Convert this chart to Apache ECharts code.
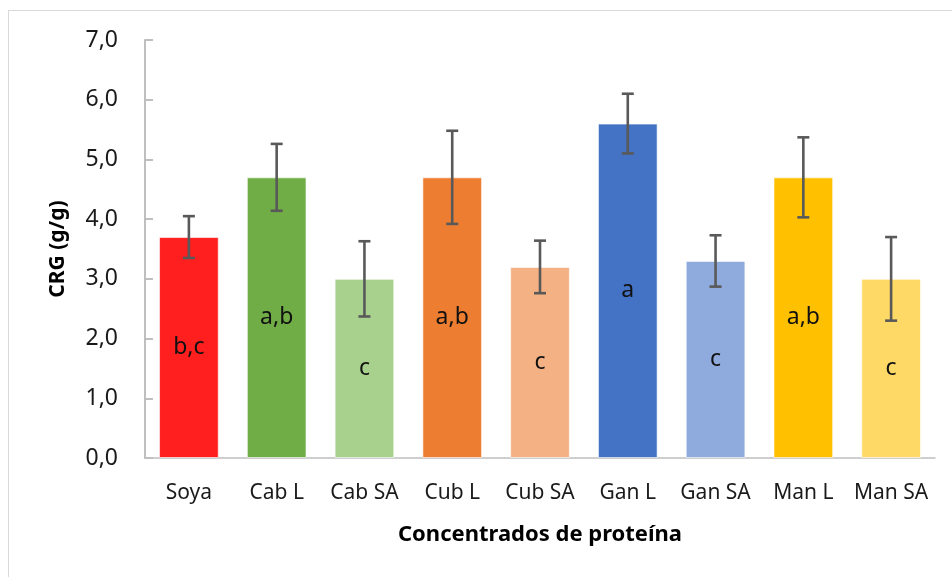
<!DOCTYPE html>
<html><head><meta charset="utf-8">
<script src="https://cdn.jsdelivr.net/npm/echarts@6/dist/echarts.min.js"></script>
<style>html,body{margin:0;padding:0;background:#fff}#c{width:952px;height:577px}
#frame{position:absolute;left:8px;top:10px;width:950px;height:570px;border:1.5px solid #d9d9d9;pointer-events:none}</style>
</head><body><div id="c"></div><div id="frame"></div>
<script>
const categories = ['Soya','Cab L','Cab SA','Cub L','Cub SA','Gan L','Gan SA','Man L','Man SA'];
const values = [3.7, 4.7, 3.0, 4.7, 3.2, 5.6, 3.3, 4.7, 3.0];
const errors = [0.35, 0.56, 0.63, 0.78, 0.44, 0.5, 0.43, 0.67, 0.70];
const letters = ['b,c','a,b','c','a,b','c','a','c','a,b','c'];
const colors = ['#FF1F1F','#70AD47','#A9D18E','#ED7D31','#F4B183','#4472C4','#8FAADC','#FFC000','#FFD966'];
const yTicks = [0,1,2,3,4,5,6,7];

const chart = echarts.init(document.getElementById('c'));
chart.setOption({
  animation:false,
  grid:{left:145,right:17,top:40,bottom:119},
  xAxis:{type:'category',data:categories,
    axisLine:{lineStyle:{color:'#bfbfbf',width:1.5}},axisTick:{show:false},
    axisLabel:{color:'#1a1a1a',fontSize:21,fontFamily:'Noto Sans',margin:25,interval:0},
    name:'Concentrados de proteína',nameLocation:'middle',nameGap:66,
    nameTextStyle:{color:'#000',fontSize:22,fontWeight:'bold',fontFamily:'Noto Sans'}},
  yAxis:{type:'value',min:yTicks[0],max:yTicks[yTicks.length-1],interval:1,
    axisLine:{show:true,lineStyle:{color:'#bfbfbf',width:2}},
    axisTick:{show:true,inside:true,length:8,lineStyle:{color:'#bfbfbf',width:2}},
    splitLine:{show:false},
    axisLabel:{color:'#1a1a1a',fontSize:23,fontFamily:'Noto Sans',margin:27,formatter:v=>v.toFixed(1).replace('.',',')},
    name:'CRG (g/g)',nameLocation:'middle',nameGap:76,nameRotate:90,
    nameTextStyle:{color:'#000',fontSize:21,fontWeight:'bold',fontFamily:'Noto Sans'}},
  series:[
    {type:'bar',data:values.map((v,i)=>({value:v,itemStyle:{color:colors[i]}})),
      barCategoryGap:'32%',
      itemStyle:{borderColor:'rgba(255,255,255,0.6)',borderWidth:1},
      label:{show:true,position:'inside',formatter:p=>letters[p.dataIndex],color:'#111',fontSize:23,fontFamily:'Noto Sans'}},
    {type:'custom',data:values.map((v,i)=>[i,v-errors[i],v+errors[i]]),z:10,
      renderItem:(params,api)=>{
        const lo=api.coord([api.value(0),api.value(1)]);
        const hi=api.coord([api.value(0),api.value(2)]);
        const x=lo[0],w=6;
        const st={stroke:'#595959',lineWidth:2.6};
        return {type:'group',children:[
          {type:'line',shape:{x1:x,y1:lo[1],x2:x,y2:hi[1]},style:st},
          {type:'line',shape:{x1:x-w,y1:lo[1],x2:x+w,y2:lo[1]},style:st},
          {type:'line',shape:{x1:x-w,y1:hi[1],x2:x+w,y2:hi[1]},style:st}]};
      }}
  ]
});
</script></body></html>
